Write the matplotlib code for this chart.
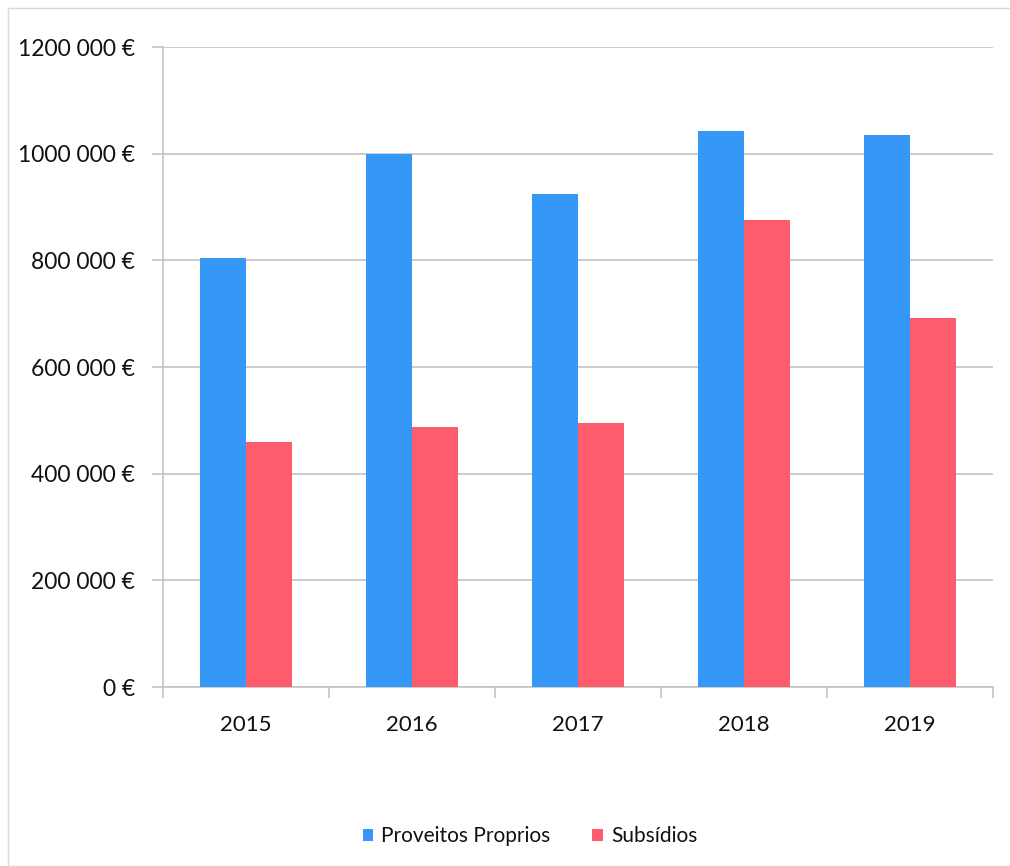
import numpy as np
import matplotlib.pyplot as plt
from matplotlib.ticker import FuncFormatter
from matplotlib.patches import Rectangle

years = ["2015", "2016", "2017", "2018", "2019"]
proveitos = [805000, 1000000, 924000, 1042000, 1035000]
subsidios = [460000, 488000, 495000, 875000, 691000]

blue = "#3598f7"
red = "#fd5c6c"
grid_col = "#c4c4c4"
text_col = "#111111"

plt.rcParams['font.family'] = ['Lato', 'DejaVu Sans']

fig = plt.figure(figsize=(10.10, 8.66), dpi=100)
ax = fig.add_axes([163 / 1010, 1 - 687 / 866, 830 / 1010, 640 / 866])

# light border around the whole chart
fig.patches.append(Rectangle((8 / 1010, 0), 1, 1 - 8 / 866, transform=fig.transFigure,
                             fill=False, edgecolor="#d5dbe3", linewidth=1))

x = np.arange(len(years))
w = 0.278
ax.bar(x - w / 2, proveitos, w, color=blue, label="Proveitos Proprios", zorder=3)
ax.bar(x + w / 2, subsidios, w, color=red, label="Subsídios", zorder=3)

ax.set_xlim(-0.5, len(years) - 0.5)
ax.set_ylim(0, 1200000)
ax.set_yticks(np.arange(0, 1200001, 200000))

def euro(v, pos):
    v = int(v)
    if v == 0:
        return "0 €"
    return f"{v // 1000} {v % 1000:03d} €"

ax.yaxis.set_major_formatter(FuncFormatter(euro))
ax.grid(axis="y", color=grid_col, linewidth=1.2, zorder=0)

ax.set_xticks(x)
ax.set_xticklabels(years)
ax.set_xticks(np.arange(-0.5, len(years)), minor=True)
ax.tick_params(axis="x", which="major", length=0, pad=20, labelsize=16, labelcolor=text_col)
ax.tick_params(axis="x", which="minor", length=8, color=grid_col, width=1.2)
ax.tick_params(axis="y", length=8, color=grid_col, width=1.2, pad=12, labelsize=16.5, labelcolor=text_col)

for side in ["top", "right"]:
    ax.spines[side].set_visible(False)
for side in ["left", "bottom"]:
    ax.spines[side].set_color(grid_col)
    ax.spines[side].set_linewidth(1.2)

leg = fig.legend(loc="center", bbox_to_anchor=(530 / 1010, 1 - 836 / 866), ncol=2, frameon=False,
                 fontsize=15, handlelength=0.5, handleheight=0.5, handletextpad=0.4, columnspacing=2.0)
for t in leg.get_texts():
    t.set_color(text_col)

fig.savefig("out.png", dpi=100)
